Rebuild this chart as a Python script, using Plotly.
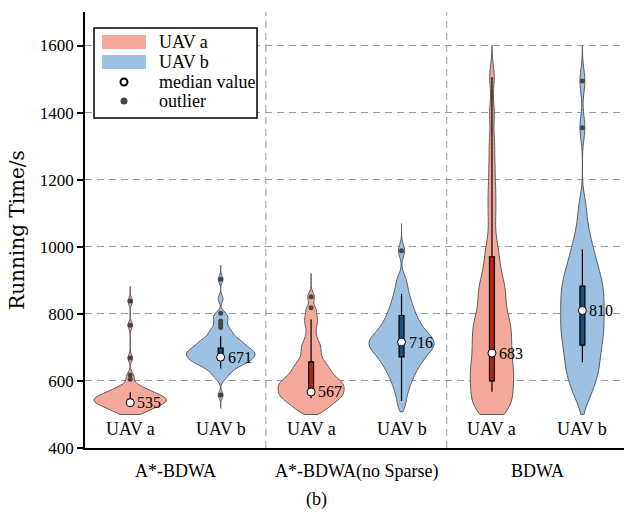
import plotly.graph_objects as go

# ---- categories -------------------------------------------------------------
groups = ["A*-BDWA", "A*-BDWA(no Sparse)", "BDWA"]
uav_names = ["UAV a", "UAV b"]

# ---- running-time samples (s) for each method / UAV -------------------------
a_astar = [501, 503, 507, 511, 514, 517, 519, 522, 524, 526, 528, 530, 531, 533,
           535, 536, 538, 539, 541, 542, 544, 545, 547, 548, 550, 551, 553, 554,
           556, 558, 560, 562, 564, 567, 569, 572, 575, 579, 583, 589, 605, 618,
           668, 766, 838]
b_astar = [558, 605, 615, 623, 628, 633, 638, 642, 645, 648, 651, 653, 655, 657,
           659, 661, 663, 665, 667, 669, 671, 672, 674, 676, 678, 679, 681, 682,
           684, 686, 688, 689, 691, 693, 695, 697, 699, 701, 704, 706, 709, 711,
           714, 716, 719, 722, 725, 728, 733, 738, 743, 748, 753, 759, 769, 779,
           786, 795, 802, 845, 903]
a_nosparse = [505, 512, 518, 524, 529, 534, 538, 542, 545, 549, 552, 555, 558, 561,
              564, 567, 570, 573, 576, 579, 582, 585, 588, 591, 594, 597, 599, 603,
              607, 611, 615, 619, 624, 629, 634, 639, 645, 651, 657, 665, 675, 685,
              695, 705, 715, 730, 750, 770, 783, 800, 818, 851]
b_nosparse = [530, 560, 580, 596, 609, 620, 630, 639, 647, 654, 661, 667, 673, 679,
              684, 689, 694, 698, 702, 706, 710, 714, 718, 722, 726, 730, 735, 740,
              745, 751, 757, 764, 771, 779, 787, 796, 806, 817, 829, 843, 859, 880,
              905, 988]
a_bdwa = [502, 510, 518, 527, 536, 545, 553, 563, 573, 583, 593, 603, 611, 619, 627,
          635, 643, 655, 665, 675, 685, 695, 705, 715, 725, 735, 745, 755, 765, 775,
          785, 795, 808, 825, 842, 856, 868, 881, 894, 912, 937, 962, 987, 1020,
          1080, 1130, 1180, 1240, 1310, 1400, 1506]
b_bdwa = [545, 568, 588, 606, 618, 630, 642, 656, 668, 680, 692, 705, 715, 725, 735,
          745, 755, 765, 775, 785, 795, 805, 815, 825, 835, 845, 855, 865, 875, 885,
          895, 906, 918, 930, 942, 958, 975, 992, 1012, 1037, 1075, 1125, 1355, 1494]

samples_a = [a_astar, a_nosparse, a_bdwa]
samples_b = [b_astar, b_nosparse, b_bdwa]

# ---- box-plot statistics --------------------------------------------------------
median_a = [535, 567, 683]
median_b = [671, 716, 810]
q1_a = [530, 560, 600]
q1_b = [662, 672, 707]
q3_a = [545, 657, 970]
q3_b = [698, 795, 883]
low_a = [523, 548, 568]
low_b = [637, 540, 656]
high_a = [566, 783, 1506]
high_b = [733, 859, 992]
outliers_a = [[605, 618, 668, 766, 838], [818, 851], []]
outliers_b = [[558, 759, 769, 779, 802, 903], [988], [1355, 1494]]

# ---- density estimate settings ----------------------------------------------
bw_a = [10, 12, 35]
bw_b = [10, 18, 35]
span_a = [[500, 882], [500, 920], [500, 1600]]
span_b = [[518, 945], [508, 1069], [500, 1600]]
width_a = [0.80, 0.73, 0.48]
width_b = [0.76, 0.72, 0.48]

# ---- styling -------------------------------------------------------------------
FONT = "Liberation Serif"
fill_col = {"a": "#f4a99a", "b": "#9cc1e2"}
box_col = {"a": "#b8260f", "b": "#1d4f7c"}
edge_col = "#5a5a5a"
grid_col = "#9a9a9a"

fig = go.Figure()

series = [
    ("a", samples_a, median_a, q1_a, q3_a, low_a, high_a, outliers_a, bw_a, span_a, width_a, 0),
    ("b", samples_b, median_b, q1_b, q3_b, low_b, high_b, outliers_b, bw_b, span_b, width_b, 1),
]

for key, samples, med, q1, q3, lo, hi, outs, bws, spans, widths, offset in series:
    for g in range(len(groups)):
        xpos = 2 * g + offset
        vals = samples[g]
        fig.add_trace(go.Violin(
            x=[xpos] * len(vals), y=vals, name=f"{groups[g]} {uav_names[offset]}",
            scalegroup=f"{key}{g}",
            spanmode="manual", span=spans[g], bandwidth=bws[g],
            width=widths[g], scalemode="width",
            fillcolor=fill_col[key], opacity=1,
            line=dict(color=edge_col, width=1),
            points=False, box_visible=False, meanline_visible=False,
            hoverinfo="skip", showlegend=False,
        ))
        fig.add_trace(go.Box(
            x=[xpos], q1=[q1[g]], median=[med[g]], q3=[q3[g]],
            lowerfence=[lo[g]], upperfence=[hi[g]],
            width=0.055, whiskerwidth=0,
            fillcolor=box_col[key], line=dict(color="black", width=1.2),
            boxpoints=False, hoverinfo="skip", showlegend=False,
        ))
        if outs[g]:
            fig.add_trace(go.Scatter(
                x=[xpos] * len(outs[g]), y=outs[g], mode="markers",
                marker=dict(color="#454545", size=5),
                hoverinfo="skip", showlegend=False,
            ))
        fig.add_trace(go.Scatter(
            x=[xpos], y=[med[g]], mode="markers",
            marker=dict(color="white", size=8, line=dict(color="black", width=1)),
            hoverinfo="skip", showlegend=False,
        ))
        fig.add_annotation(
            x=xpos, y=med[g], text=str(med[g]), showarrow=False,
            xanchor="left", yanchor="middle", xshift=5,
            font=dict(family=FONT, size=16, color="black"),
        )
        fig.add_annotation(
            x=xpos, y=0, yref="paper", text=uav_names[offset], showarrow=False,
            xanchor="center", yanchor="bottom", yshift=7,
            font=dict(family=FONT, size=18, color="black"),
        )

# method names under the axis
for g, name in enumerate(groups):
    fig.add_annotation(
        x=2 * g + 0.5, y=0, yref="paper", text=name, showarrow=False,
        xanchor="center", yanchor="top", yshift=-11,
        font=dict(family=FONT, size=18, color="black"),
    )

# dashed separators between methods
for g in range(len(groups) - 1):
    fig.add_shape(type="line", x0=2 * g + 1.5, x1=2 * g + 1.5, y0=0, y1=1,
                  yref="paper", layer="below",
                  line=dict(color=grid_col, width=1, dash="7px,5px"))

# panel tag
fig.add_annotation(
    x=0.43, y=0, xref="paper", yref="paper", text="(b)", showarrow=False,
    xanchor="center", yanchor="top", yshift=-39,
    font=dict(family=FONT, size=18, color="black"),
)

# ---- hand-built legend -------------------------------------------------------
def px_x(p):
    return (p - 85) / 539


def px_y(p):
    return (448 - p) / 436


fig.add_shape(type="rect", xref="paper", yref="paper",
              x0=px_x(94), x1=px_x(257), y0=px_y(118), y1=px_y(28),
              line=dict(color="black", width=1.5), fillcolor="white", layer="above")
legend_rows = [
    ("patch", fill_col["a"], "UAV a", 42),
    ("patch", fill_col["b"], "UAV b", 62),
    ("median", "white", "median value", 82),
    ("outlier", "#454545", "outlier", 101),
]
for kind, col, label, yc in legend_rows:
    if kind == "patch":
        fig.add_shape(type="rect", xref="paper", yref="paper",
                      x0=px_x(102), x1=px_x(146), y0=px_y(yc + 7), y1=px_y(yc - 7),
                      line=dict(width=0), fillcolor=col, layer="above")
    else:
        r = 3.5
        lw = 2 if kind == "median" else 0
        fig.add_shape(type="circle", xref="paper", yref="paper",
                      xsizemode="pixel", ysizemode="pixel",
                      xanchor=px_x(124), yanchor=px_y(yc),
                      x0=-r, x1=r, y0=-r, y1=r,
                      line=dict(color="black", width=lw), fillcolor=col, layer="above")
    fig.add_annotation(
        x=px_x(157), y=px_y(yc), xref="paper", yref="paper", text=label,
        showarrow=False, xanchor="left", yanchor="middle",
        font=dict(family=FONT, size=18, color="black"),
    )

fig.update_layout(
    width=624, height=515,
    margin=dict(l=85, r=0, t=12, b=67),
    plot_bgcolor="white", paper_bgcolor="white",
    violinmode="overlay", boxmode="overlay",
    showlegend=False,
    font=dict(family=FONT, size=17, color="black"),
)
fig.update_xaxes(
    range=[-0.5, 5.46], showgrid=False, zeroline=False,
    showline=True, linecolor="black", linewidth=1.5,
    ticks="", showticklabels=False,
)
fig.update_yaxes(
    range=[400, 1700], tickvals=[400, 600, 800, 1000, 1200, 1400, 1600],
    ticks="outside", ticklen=6, tickwidth=1.5, tickcolor="black",
    showline=True, linecolor="black", linewidth=1.5, zeroline=False,
    showgrid=True, gridcolor=grid_col, gridwidth=1, griddash="7px,5px",
    tickfont=dict(family=FONT, size=17, color="black"),
    title=dict(text="Running Time/s", standoff=10,
               font=dict(family="DejaVu Serif", size=20, color="black")),
)

fig.write_html("out.html")
